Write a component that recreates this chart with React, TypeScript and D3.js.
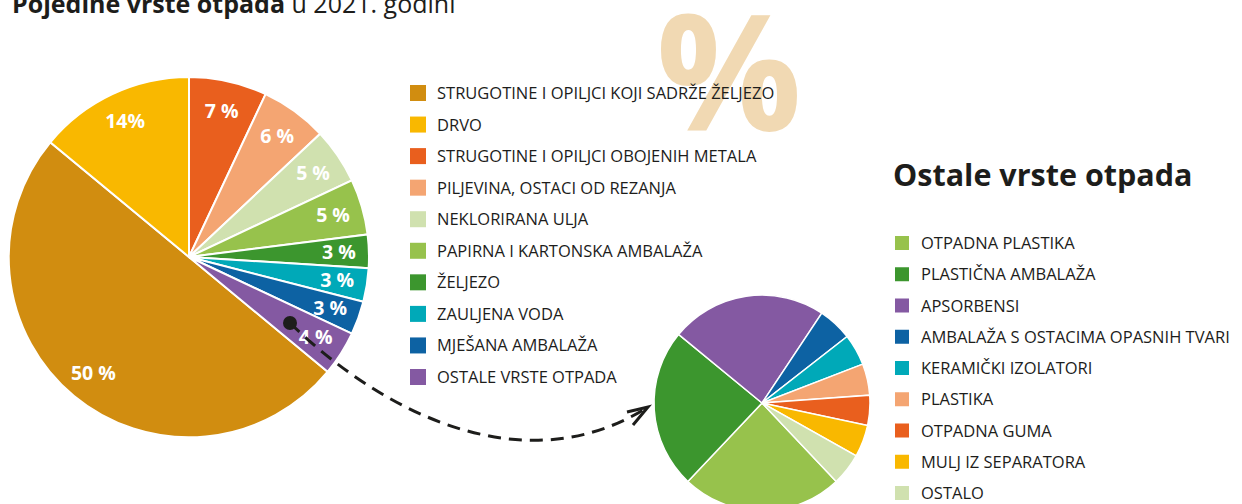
import React from "react";
import * as d3 from "d3";

const mainCategories = [
  "STRUGOTINE I OPILJCI KOJI SADRŽE ŽELJEZO",
  "DRVO",
  "STRUGOTINE I OPILJCI OBOJENIH METALA",
  "PILJEVINA, OSTACI OD REZANJA",
  "NEKLORIRANA ULJA",
  "PAPIRNA I KARTONSKA AMBALAŽA",
  "ŽELJEZO",
  "ZAULJENA VODA",
  "MJEŠANA AMBALAŽA",
  "OSTALE VRSTE OTPADA",
];
const mainValues = [50, 14, 7, 6, 5, 5, 3, 3, 3, 4];
const mainLabels = ["50 %", "14%", "7 %", "6 %", "5 %", "5 %", "3 %", "3 %", "3 %", "4 %"];
const mainColors = [
  "#d18d10", "#f9b800", "#e95f1e", "#f4a572", "#d0e1af",
  "#97c24c", "#3c962e", "#00a9b8", "#0d62a3", "#8459a2",
];

const otherCategories = [
  "OTPADNA PLASTIKA",
  "PLASTIČNA AMBALAŽA",
  "APSORBENSI",
  "AMBALAŽA S OSTACIMA OPASNIH TVARI",
  "KERAMIČKI IZOLATORI",
  "PLASTIKA",
  "OTPADNA GUMA",
  "MULJ IZ SEPARATORA",
  "OSTALO",
];
const otherValues = [24.1, 23.9, 23.4, 5.1, 4.7, 4.7, 4.5, 4.8, 4.8];
const otherColors = [
  "#97c24c", "#3c962e", "#8459a2", "#0d62a3", "#00a9b8",
  "#f4a572", "#e95f1e", "#f9b800", "#d0e1af",
];

const FONT = "'Open Sans', 'Noto Sans', sans-serif";
const TEXT = "#1d1d1b";
const deg = Math.PI / 180;

export default function App() {
  const W = 1242, H = 504;

  // main pie
  const c1 = { x: 189, y: 257 }, r1 = 180;
  const pie1 = d3.pie<number>().sort(null).startAngle(129.6 * deg).endAngle(129.6 * deg + 2 * Math.PI);
  const arcs1 = pie1(mainValues);
  const arc1 = d3.arc<d3.PieArcDatum<number>>().innerRadius(0).outerRadius(r1);
  const labelArc = d3.arc<d3.PieArcDatum<number>>().innerRadius(150).outerRadius(150);

  // secondary pie
  const c2 = { x: 762, y: 403 }, r2 = 108;
  const pie2 = d3.pie<number>().sort(null).startAngle(136.6 * deg).endAngle(136.6 * deg + 2 * Math.PI);
  const arcs2 = pie2(otherValues);
  const arc2 = d3.arc<d3.PieArcDatum<number>>().innerRadius(0).outerRadius(r2);

  const legend1Y = d3.scaleLinear().domain([0, mainCategories.length - 1]).range([93, 377]);
  const legend2Y = d3.scaleLinear().domain([0, otherCategories.length - 1]).range([243, 493]);

  const arrowPath = d3.path();
  arrowPath.moveTo(290, 323);
  arrowPath.bezierCurveTo(390, 420, 530, 482, 648, 407);

  return (
    <svg width={W} height={H} style={{ position: "absolute", left: 0, top: 0, background: "#fff" }} fontFamily={FONT}>
      {/* background percent sign */}
      <text x={729} y={131} textAnchor="middle" fontSize={162} fontWeight={700} fill="#f1d9b3">%</text>

      {/* main title */}
      <text x={12} y={13} fontSize={25} fill={TEXT}>
        <tspan fontWeight={700}>Pojedine vrste otpada</tspan>
        <tspan> u 2021. godini</tspan>
      </text>

      {/* main pie */}
      <g transform={`translate(${c1.x},${c1.y})`}>
        {arcs1.map((a, i) => (
          <path key={i} d={arc1(a) || ""} fill={mainColors[i]} stroke="#fff" strokeWidth={2} />
        ))}
        {arcs1.map((a, i) => {
          const [x, y] = labelArc.centroid(a);
          return (
            <text key={"l" + i} x={x} y={y} dy="0.36em" textAnchor="middle" fontSize={19.5} fontWeight={700} fill="#fff">
              {mainLabels[i]}
            </text>
          );
        })}
      </g>

      {/* legend 1 */}
      {mainCategories.map((c, i) => (
        <g key={c} transform={`translate(410,${legend1Y(i)})`}>
          <rect x={0} y={-8} width={16} height={16} fill={mainColors[i]} />
          <text x={27} y={6} fontSize={16.5} fill={TEXT}>{c}</text>
        </g>
      ))}

      {/* arrow */}
      <path d={arrowPath.toString()} fill="none" stroke={TEXT} strokeWidth={3} strokeDasharray="13 8" />
      <path d="M627,412 L648,407 L633,425" fill="none" stroke={TEXT} strokeWidth={3} strokeLinejoin="miter" />
      <circle cx={290} cy={323} r={7} fill={TEXT} />

      {/* secondary pie */}
      <g transform={`translate(${c2.x},${c2.y})`}>
        {arcs2.map((a, i) => (
          <path key={i} d={arc2(a) || ""} fill={otherColors[i]} stroke="#fff" strokeWidth={1.5} />
        ))}
      </g>

      {/* secondary title + legend */}
      <text x={893} y={186} fontSize={30.5} fontWeight={700} fill={TEXT}>Ostale vrste otpada</text>
      {otherCategories.map((c, i) => (
        <g key={c} transform={`translate(895,${legend2Y(i)})`}>
          <rect x={0} y={-7} width={14} height={14} fill={otherColors[i]} />
          <text x={26} y={6} fontSize={16.5} fill={TEXT}>{c}</text>
        </g>
      ))}
    </svg>
  );
}
